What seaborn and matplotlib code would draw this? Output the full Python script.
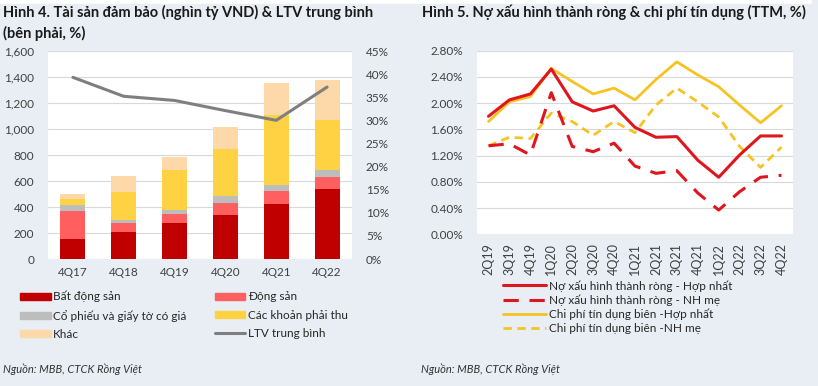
import matplotlib
matplotlib.use("Agg")
import matplotlib.pyplot as plt
import matplotlib.patches as mpatches
import matplotlib.lines as mlines
from matplotlib.ticker import FuncFormatter
import seaborn as sns
import pandas as pd
import numpy as np

# ---------------- data: left chart ----------------
quarters_l = ["4Q17", "4Q18", "4Q19", "4Q20", "4Q21", "4Q22"]
bat_dong_san = [155, 205, 275, 338, 422, 535]
dong_san = [215, 70, 68, 89, 100, 97]
co_phieu = [45, 25, 33, 57, 51, 56]
khoan_phai_thu = [43, 215, 307, 366, 532, 379]
khac = [42, 125, 98, 166, 246, 312]
ltv = [0.393, 0.352, 0.343, 0.321, 0.300, 0.372]

# ---------------- data: right chart ----------------
quarters_r = ["2Q19", "3Q19", "4Q19", "1Q20", "2Q20", "3Q20", "4Q20", "1Q21",
              "2Q21", "3Q21", "4Q21", "1Q22", "2Q22", "3Q22", "4Q22"]
npl_hn = [1.80, 2.05, 2.14, 2.52, 2.02, 1.88, 1.96, 1.63, 1.48, 1.49, 1.13, 0.87, 1.21, 1.50, 1.50]
npl_me = [1.35, 1.38, 1.21, 2.16, 1.34, 1.26, 1.39, 1.04, 0.93, 0.97, 0.63, 0.37, 0.65, 0.87, 0.90]
ccr_hn = [1.72, 2.02, 2.10, 2.53, 2.33, 2.14, 2.23, 2.05, 2.36, 2.63, 2.43, 2.25, 1.97, 1.70, 1.96]
ccr_me = [1.35, 1.48, 1.46, 1.85, 1.72, 1.51, 1.72, 1.55, 1.97, 2.23, 2.02, 1.79, 1.34, 1.02, 1.33]

bar_labels = ["Bất động sản", "Động sản", "Cổ phiếu và giấy tờ có giá",
              "Các khoản phải thu", "Khác"]
line_labels_r = ["Nợ xấu hình thành ròng - Hợp nhất", "Nợ xấu hình thành ròng - NH mẹ",
                 "Chi phí tín dụng biên -Hợp nhất", "Chi phí tín dụng biên -NH mẹ"]

sns.set_theme(style="white")
plt.rcParams["font.family"] = ["Lato", "DejaVu Sans"]

W, H = 818, 386
fig = plt.figure(figsize=(W / 100, H / 100), dpi=100)
fig.patch.set_facecolor("white")

def fx(px):
    return px / W

def fy(py):
    return 1 - py / H

tick_color = "#404040"
grid_color = "#D9D9D9"

# ---------------- left chart ----------------
axL = fig.add_axes([fx(48), fy(259), fx(352) - fx(48), fy(51) - fy(259)])
bar_colors = ["#C00000", "#FF5F5F", "#BDBDBD", "#FFD244", "#FDD9A9"]
series = [bat_dong_san, dong_san, co_phieu, khoan_phai_thu, khac]
cum = np.cumsum(np.array(series), axis=0)
dfb = pd.DataFrame({"q": quarters_l})
for i in range(len(series) - 1, -1, -1):
    dfb["v"] = cum[i]
    sns.barplot(data=dfb, x="q", y="v", color=bar_colors[i], width=0.49,
                saturation=1, ax=axL, zorder=2, linewidth=0)
axL.set_ylim(0, 1600)
axL.set_xlim(-0.49, 5.49)
axL.set_yticks(range(0, 1601, 200))
axL.yaxis.set_major_formatter(FuncFormatter(lambda v, p: f"{int(v):,}"))
axL.set_xlabel("")
axL.set_ylabel("")
axL.grid(axis="y", color=grid_color, linewidth=0.8, zorder=0)
axL.set_axisbelow(True)
for s in axL.spines.values():
    s.set_visible(False)
axL.tick_params(axis="both", length=0, labelsize=8.5, colors=tick_color, pad=6)
axL.tick_params(axis="y", pad=10)

axR = axL.twinx()
dfl = pd.DataFrame({"x": np.arange(len(quarters_l)), "ltv": ltv})
sns.lineplot(data=dfl, x="x", y="ltv", color="#7F7F7F", linewidth=2.2, ax=axR, zorder=3)
axR.set_ylim(0, 0.45)
axR.set_yticks(np.arange(0, 0.451, 0.05))
axR.yaxis.set_major_formatter(FuncFormatter(lambda v, p: f"{v*100:.0f}%"))
axR.set_xlim(-0.49, 5.49)
axR.set_ylabel("")
axR.set_xlabel("")
for s in axR.spines.values():
    s.set_visible(False)
axR.tick_params(axis="y", length=0, labelsize=8.5, colors=tick_color, pad=10)
axR.grid(False)

fig.text(fx(3), fy(12), "Hình 4. Tài sản đảm bảo (nghìn tỷ VND) & LTV trung bình",
         fontsize=10.5, fontweight="bold", color="#1a1a1a", va="center", ha="left")
fig.text(fx(3), fy(33), "(bên phải, %)", fontsize=10.5, fontweight="bold",
         color="#1a1a1a", va="center", ha="left")

handles_l = [mpatches.Patch(color=bar_colors[i], label=bar_labels[i]) for i in range(5)]
ltv_handle = mlines.Line2D([], [], color="#7F7F7F", linewidth=2.2, label="LTV trung bình")
order = [handles_l[0], handles_l[2], handles_l[4], handles_l[1], handles_l[3], ltv_handle]
fig.legend(handles=order, labels=[h.get_label() for h in order], ncol=2,
           loc="upper left", bbox_to_anchor=(fx(20), fy(291)), frameon=False,
           fontsize=8.5, handlelength=2.6, handleheight=0.55, handletextpad=0.2,
           columnspacing=2.4, labelspacing=0.62, borderpad=0, borderaxespad=0,
           labelcolor="#262626")

fig.text(fx(3), fy(369), "Nguồn: MBB, CTCK Rồng Việt", fontsize=8, style="italic",
         color="#333333", va="center", ha="left")

# ---------------- right chart ----------------
ax2 = fig.add_axes([fx(477), fy(234.3), fx(793) - fx(477), fy(50.7) - fy(234.3)])
dfr = pd.DataFrame({"x": np.arange(len(quarters_r)), "a": npl_hn, "b": npl_me,
                    "c": ccr_hn, "d": ccr_me})
red = "#E0161E"
yel = "#F6C324"
sns.lineplot(data=dfr, x="x", y="c", color=yel, linewidth=2.0, ax=ax2, zorder=3)
sns.lineplot(data=dfr, x="x", y="d", color=yel, linewidth=2.0, ax=ax2, zorder=3)
sns.lineplot(data=dfr, x="x", y="a", color=red, linewidth=2.2, ax=ax2, zorder=4)
sns.lineplot(data=dfr, x="x", y="b", color=red, linewidth=2.2, ax=ax2, zorder=4)
lines = ax2.get_lines()
lines[1].set_dashes([3, 2])
lines[3].set_dashes([5, 3.5])
ax2.set_ylim(0, 2.8)
ax2.set_xlim(-0.55, 14.55)
ax2.set_yticks(np.arange(0, 2.81, 0.4))
ax2.yaxis.set_major_formatter(FuncFormatter(lambda v, p: f"{v:.2f}%"))
ax2.set_xticks(np.arange(len(quarters_r)))
ax2.set_xticklabels(quarters_r, rotation=90)
ax2.set_xlabel("")
ax2.set_ylabel("")
ax2.grid(axis="y", color=grid_color, linewidth=0.8, zorder=0)
ax2.set_axisbelow(True)
for s in ax2.spines.values():
    s.set_visible(False)
ax2.tick_params(axis="both", length=0, labelsize=8.5, colors=tick_color)
ax2.tick_params(axis="x", labelsize=9)
ax2.tick_params(axis="y", pad=10)
ax2.tick_params(axis="x", pad=6)

fig.text(fx(422), fy(12), "Hình 5. Nợ xấu hình thành ròng & chi phí tín dụng (TTM, %)",
         fontsize=10.5, fontweight="bold", color="#1a1a1a", va="center", ha="left")

h_r = [
    mlines.Line2D([], [], color=red, linewidth=2.2),
    mlines.Line2D([], [], color=red, linewidth=2.2, dashes=[5, 3.5]),
    mlines.Line2D([], [], color=yel, linewidth=2.0),
    mlines.Line2D([], [], color=yel, linewidth=2.0, dashes=[3, 2]),
]
fig.legend(handles=h_r, labels=line_labels_r, ncol=1, loc="upper left",
           bbox_to_anchor=(fx(503), fy(280)), frameon=False, fontsize=8.5,
           handlelength=3.6, handletextpad=0.3, labelspacing=0.25, borderpad=0,
           borderaxespad=0, labelcolor="#262626")

fig.text(fx(421), fy(369), "Nguồn: MBB, CTCK Rồng Việt", fontsize=8, style="italic",
         color="#333333", va="center", ha="left")

# light frame on right and bottom edges
fig.patches.append(mpatches.Rectangle((fx(812), 0), 1 - fx(812), 1, transform=fig.transFigure,
                                      color="#E8EEF4", zorder=-1))
fig.patches.append(mpatches.Rectangle((0, 0), 1, 1 - fy(382), transform=fig.transFigure,
                                      color="#E8EEF4", zorder=-1))

fig.savefig("out.png", dpi=100)
